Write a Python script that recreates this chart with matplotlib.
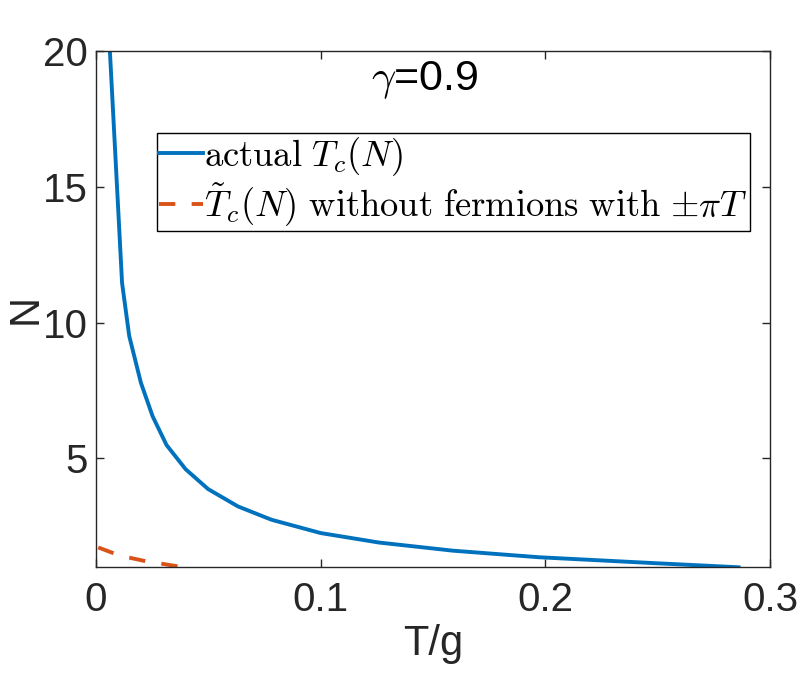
import matplotlib
matplotlib.use("Agg")
import matplotlib.pyplot as plt

plt.rcParams["font.family"] = ["Liberation Sans", "DejaVu Sans"]
plt.rcParams["mathtext.fontset"] = "cm"

# values
t_actual = [0.0058, 0.0116, 0.0148, 0.0200, 0.0252, 0.0314, 0.0399, 0.0499,
            0.0632, 0.0781, 0.1000, 0.1260, 0.1590, 0.1970, 0.2490, 0.2860]
n_actual = [20.6, 11.46, 9.50, 7.78, 6.55, 5.49, 4.60, 3.87,
            3.23, 2.74, 2.25, 1.90, 1.60, 1.36, 1.14, 0.99]

t_tilde = [0.001, 0.0074, 0.0145, 0.0212, 0.0286, 0.0352, 0.040]
n_tilde = [1.72, 1.52, 1.35, 1.23, 1.13, 1.04, 0.98]

x_ticks = [0, 0.1, 0.2, 0.3]
x_tick_labels = ["0", "0.1", "0.2", "0.3"]
y_ticks = [5, 10, 15, 20]

blue = "#0072BD"
orange = "#D95319"
dark = "#262626"

fig = plt.figure(figsize=(7.98, 6.85), dpi=100)
ax = fig.add_axes([96 / 798, 1 - 567 / 685, 674 / 798, 516 / 685])

ax.plot(t_actual, n_actual, color=blue, lw=2.8, label=r"$\mathrm{actual}\ T_c(N)$")
ax.plot(t_tilde, n_tilde, color=orange, lw=2.8, dashes=(4.2, 4.2),
        label=r"$\tilde{T}_c(N)\ \mathrm{without\ fermions\ with}\ {\pm}\pi T$")

ax.set_xlim(0, 0.3)
ax.set_ylim(1, 20)
ax.set_xticks(x_ticks)
ax.set_xticklabels(x_tick_labels)
ax.set_yticks(y_ticks)

ax.tick_params(direction="in", length=6, width=1, colors=dark, labelsize=29,
               top=True, right=True)
ax.tick_params(axis="y", pad=6)
ax.tick_params(axis="x", pad=10)
for sp in ax.spines.values():
    sp.set_color(dark)
    sp.set_linewidth(1)

ax.set_xlabel("T/g", fontsize=30, color=dark, labelpad=4)
ax.set_ylabel("N", fontsize=30, color=dark, labelpad=-2)

ax.text(0.488, 0.944, r"$\gamma$=0.9", transform=ax.transAxes, ha="center",
        va="center", fontsize=31, color="black")

leg = ax.legend(loc="upper left", bbox_to_anchor=(0.0905, 0.841), borderaxespad=0,
                fontsize=26.3, handlelength=1.2, handletextpad=0.05,
                fancybox=False, framealpha=1, edgecolor="black", borderpad=0.05,
                labelspacing=0.1)
leg.get_frame().set_linewidth(1)

fig.savefig("out.png", dpi=100)
